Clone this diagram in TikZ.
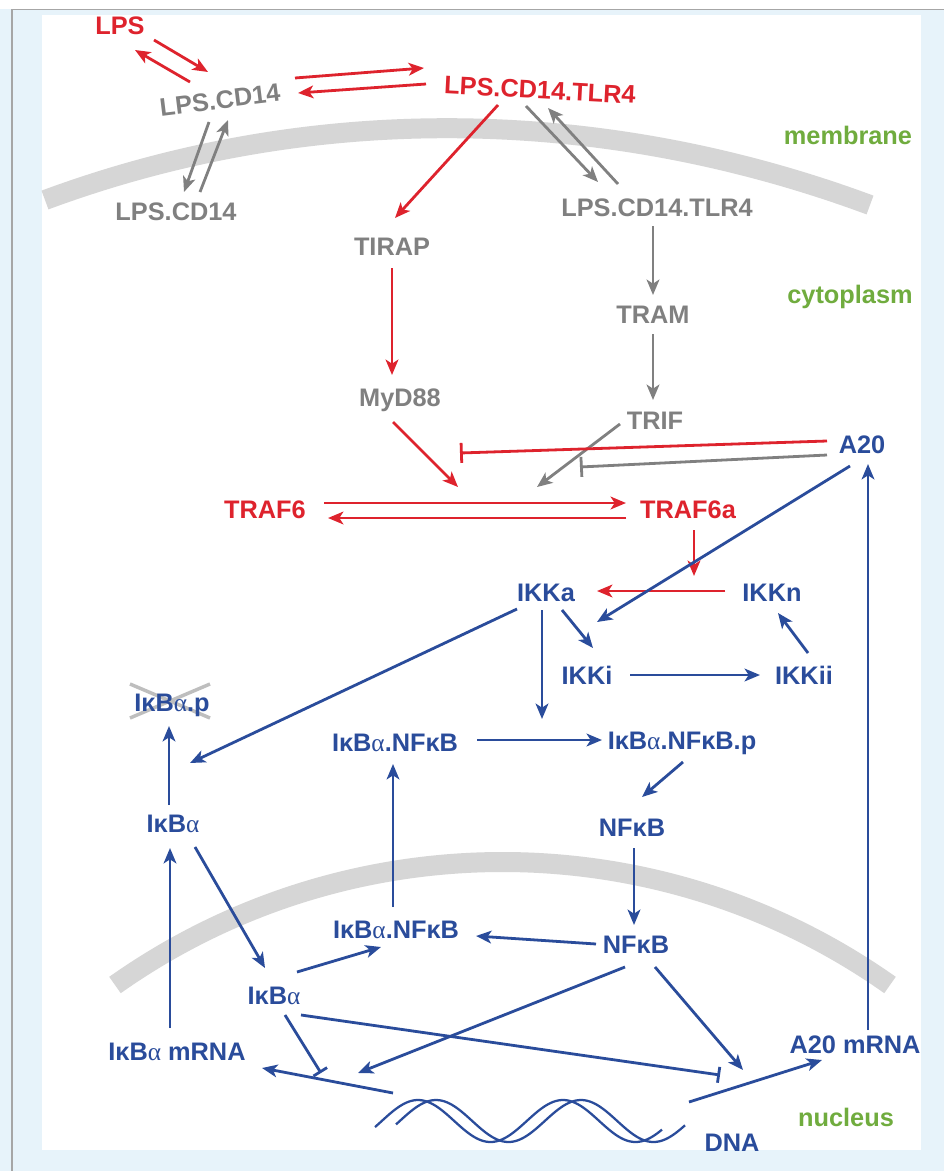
\documentclass[tikz,border=0pt]{standalone}
\usepackage{fontspec}
\setmainfont{Liberation Sans}
\newfontfamily\grk{Liberation Serif}
\usetikzlibrary{arrows.meta,calc}
\definecolor{cred}{RGB}{222,35,45}
\definecolor{cgray}{RGB}{128,128,128}
\definecolor{cblue}{RGB}{42,76,155}
\definecolor{cgreen}{RGB}{112,172,62}
\definecolor{bgblue}{RGB}{231,243,250}
\definecolor{memgray}{RGB}{214,214,214}
\definecolor{xgray}{RGB}{190,190,190}
\newcommand{\myal}{{\grk\mdseries α}}
\newcommand{\mykp}{κ}
\begin{document}
\begin{tikzpicture}[x=0.75pt,y=-0.75pt,
  lbl/.style={font=\fontsize{19}{22}\selectfont\bfseries, inner sep=0pt, outer sep=0pt},
  rl/.style={lbl, text=cred},
  gl/.style={lbl, text=cgray},
  bl/.style={lbl, text=cblue},
  grl/.style={lbl, text=cgreen},
  con/.style={line width=2.1pt, -{Stealth[length=11.5pt,width=9.5pt,inset=3pt]}},
  inh/.style={line width=2.1pt, -{Bar[width=15pt]}},
  inhs/.style={line width=2.1pt, -{Bar[width=12pt]}},
  rc/.style={con, draw=cred, fill=cred},
  gc/.style={con, draw=cgray, fill=cgray},
  bc/.style={con, draw=cblue, fill=cblue},
  memb/.style={draw=memgray, line width=15pt, line cap=butt},
  strand/.style={draw=cblue, line width=1.7pt}
]
\useasboundingbox (0,0) rectangle (944,1171);
% background
\fill[bgblue] (0,0) rectangle (944,1171);
\fill[white] (0,0) rectangle (944,9);
\draw[gray!70, line width=0.8pt] (12,1171) -- (12,9.5) -- (944,9.5);
\fill[white] (42,15) rectangle (921,1150);

% membranes
\draw[memb] (45,200) .. controls (312,101) and (603,106) .. (870,205);
\draw[memb] (115,985) .. controls (347,821) and (658,821) .. (890,985);

% DNA helix
\draw[strand] plot[domain=375:662, samples=120, smooth] (\x, {1121 - 21*cos(2.4828*(\x-418))});
\draw[strand] plot[domain=396:685, samples=120, smooth] (\x, {1121 - 21*cos(2.4828*(\x-436))});
\coordinate (dnaL) at (393,1093);
\coordinate (dnaR) at (689,1102);

% X over degraded IkBa.p
\coordinate (xa) at (130,684);
\coordinate (xb) at (210,718);
\coordinate (xc) at (130,718);
\coordinate (xd) at (210,684);
\draw[xgray, line width=2.6pt] (xa) -- (xb);
\draw[xgray, line width=2.6pt] (xc) -- (xd);

% nodes
\node[rl] (LPS) at (120,26) {LPS};
\node[gl, rotate=7] (LPScd) at (220,100) {LPS.CD14};
\node[rl, rotate=-3] (LPStlr) at (540,90) {LPS.CD14.TLR4};
\node[gl] (LPScdb) at (176,212) {LPS.CD14};
\node[gl] (TIRAP) at (392,247) {TIRAP};
\node[gl] (LPStlrb) at (657,208) {LPS.CD14.TLR4};
\node[gl] (TRAM) at (653,315) {TRAM};
\node[gl] (MyD) at (400,400) {MyD88};
\node[gl] (TRIF) at (655,421) {TRIF};
\node[bl] (A20) at (862,445) {A20};
\node[rl] (TRAF6) at (265,510) {TRAF6};
\node[rl] (TRAF6a) at (688,510) {TRAF6a};
\node[bl] (IKKa) at (546,593) {IKKa};
\node[bl] (IKKn) at (772,593) {IKKn};
\node[bl] (IKKi) at (587,675) {IKKi};
\node[bl] (IKKii) at (804,675) {IKKii};
\node[bl] (IkBap) at (172,705) {I\mykp B\myal.p};
\node[bl] (IkNFa) at (395,743) {I\mykp B\myal.NF\mykp B};
\node[bl] (IkNFpa) at (682,743) {I\mykp B\myal.NF\mykp B.p};
\node[bl] (IkBa) at (173,824) {I\mykp B\myal};
\node[bl] (NFkBa) at (632,828) {NF\mykp B};
\node[bl] (IkNFb) at (396,930) {I\mykp B\myal.NF\mykp B};
\node[bl] (NFkBb) at (636,945) {NF\mykp B};
\node[bl] (IkBab) at (274,996) {I\mykp B\myal};
\node[bl] (Ikmrna) at (177,1052) {I\mykp B\myal{} mRNA};
\node[bl] (A20mrna) at (855,1045) {A20 mRNA};
\node[bl] (DNA) at (732,1143) {DNA};
\node[grl] (membrane) at (848,135) {membrane};
\node[grl] (cytoplasm) at (850,297) {cytoplasm};
\node[grl] (nucleus) at (846,1117) {nucleus};

% reaction points
\coordinate (r1) at (458,487);
\coordinate (g1) at (537,487);
\coordinate (ri) at (460,453);
\coordinate (gi) at (580,467);
\coordinate (r2) at (694,576);
\coordinate (b1) at (190,763);
\coordinate (b2) at (542,719);
\coordinate (t1) at (321,1073);
\coordinate (t2) at (720,1075);
\coordinate (t3) at (358,1073);
\coordinate (t4) at (743,1070);

% red / gray receptor part
\draw[rc] ($(LPS)+(34,14)$) -- ($(LPScd)+(-12,-28)$);
\draw[rc] ($(LPScd)+(-30,-18)$) -- ($(LPS)+(15,24)$);
\draw[rc] ($(LPScd)+(75,-22)$) -- ($(LPStlr)+(-116,-22)$);
\draw[rc] ($(LPStlr)+(-114,-6)$) -- ($(LPScd)+(78,-7)$);
\draw[gc] ($(LPScd)+(-11,22)$) -- ($(LPScdb)+(8,-20)$);
\draw[gc] ($(LPScdb)+(24,-20)$) -- ($(LPScd)+(8,20)$);
\draw[rc] ($(LPStlr)+(-42,15)$) -- ($(TIRAP)+(3,-29)$);
\draw[gc] ($(LPStlr)+(-14,16)$) -- ($(LPStlrb)+(-59,-26)$);
\draw[gc] ($(LPStlrb)+(-39,-24)$) -- ($(LPStlr)+(8,18)$);
\draw[gc] ($(LPStlrb)+(-4,18)$) -- ($(TRAM)+(0,-20)$);
\draw[gc] ($(TRAM)+(0,19)$) -- ($(TRIF)+(-2,-21)$);
\draw[rc] ($(TIRAP)+(0,21)$) -- ($(MyD)+(-8,-25)$);
\draw[rc] ($(MyD)+(-7,22)$) -- (r1);
\draw[gc] ($(TRIF)+(-35,3)$) -- (g1);
\draw[inh, cred] ($(A20)+(-35,-4)$) -- (ri);
\draw[inh, cgray] ($(A20)+(-35,10)$) -- (gi);
\draw[rc] ($(TRAF6)+(59,-7)$) -- ($(TRAF6a)+(-62,-7)$);
\draw[rc] ($(TRAF6a)+(-62,8)$) -- ($(TRAF6)+(63,8)$);
\draw[rc] ($(TRAF6a)+(6,20)$) -- (r2);
\draw[rc] ($(IKKn)+(-47,-2)$) -- ($(IKKa)+(51,-2)$);

% blue part
\draw[bc] ($(A20)+(-12,21)$) -- ($(IKKi)+(10,-53)$);
\draw[bc] ($(A20mrna)+(13,-15)$) -- ($(A20)+(6,19)$);
\draw[bc] ($(IKKa)+(16,17)$) -- ($(IKKi)+(6,-27)$);
\draw[bc] ($(IKKa)+(-29,16)$) -- (b1);
\draw[bc] ($(IKKa)+(-4,17)$) -- (b2);
\draw[bc] ($(IKKi)+(43,0)$) -- ($(IKKii)+(-44,0)$);
\draw[bc] ($(IKKii)+(4,-22)$) -- ($(IKKn)+(6,20)$);
\draw[bc] ($(IkBa)+(-4,-19)$) -- ($(IkBap)+(-3,21)$);
\draw[bc] ($(IkNFa)+(82,-3)$) -- ($(IkNFpa)+(-80,-3)$);
\draw[bc] ($(IkNFpa)+(1,19)$) -- ($(NFkBa)+(10,-31)$);
\draw[bc] ($(NFkBa)+(2,20)$) -- ($(NFkBb)+(-2,-20)$);
\draw[bc] ($(NFkBb)+(-40,-1)$) -- ($(IkNFb)+(80,6)$);
\draw[bc] ($(IkNFb)+(-3,-23)$) -- ($(IkNFa)+(-2,21)$);
\draw[bc] ($(IkBa)+(22,23)$) -- ($(IkBab)+(-9,-28)$);
\draw[bc] ($(IkBab)+(23,-24)$) -- ($(IkNFb)+(-15,17)$);
\draw[bc] ($(Ikmrna)+(-7,-24)$) -- ($(IkBa)+(-3,24)$);
\draw[inhs, cblue] ($(IkBab)+(11,19)$) -- (t1);
\draw[inhs, cblue] ($(IkBab)+(27,19)$) -- (t2);
\draw[bc] ($(NFkBb)+(-11,22)$) -- (t3);
\draw[bc] ($(NFkBb)+(19,22)$) -- (t4);
\draw[bc] (dnaL) -- ($(Ikmrna)+(85,16)$);
\draw[bc] (dnaR) -- ($(A20mrna)+(-33,15)$);
\end{tikzpicture}
\end{document}
